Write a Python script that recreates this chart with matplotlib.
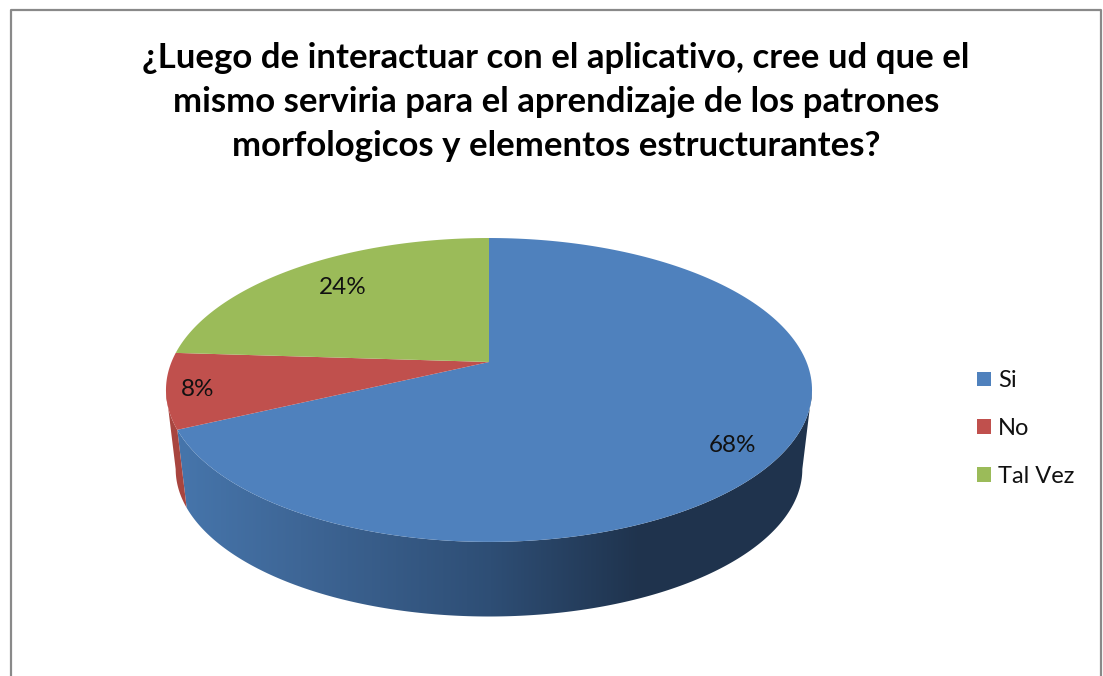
import numpy as np
import matplotlib
matplotlib.use("Agg")
from matplotlib import pyplot as plt
from matplotlib.patches import Polygon

title = "¿Luego de interactuar con el aplicativo, cree ud que el\nmismo serviria para el aprendizaje de los patrones\nmorfologicos y elementos estructurantes?"
labels = ["Si", "No", "Tal Vez"]
values = [68, 8, 24]

colors = ["#4f81bd", "#c0504d", "#9bbb59"]
label_xy = [(732, 445), (198, 389), (343, 287)]

# pie geometry in image pixels, perspective view of a disc
cx = 489
k = 0.184
A = 317.5
B = 146.8
top_y = 362
bottom_y = 442
bottom_scale = 0.97


def project(theta, r, y0, s):
    X = r * np.sin(theta)
    Y = r * np.cos(theta)
    w = 1 + k * Y
    return cx + s * A * X / w, y0 - s * B * Y / w


def arc(a, b, y0, s):
    t = np.linspace(a, b, 200)
    return np.column_stack(project(t, 1.0, y0, s))


plt.rcParams["font.family"] = ["Lato", "DejaVu Sans"]
fig = plt.figure(figsize=(11.03, 6.76), dpi=100)
ax = fig.add_axes([0, 0, 1, 1])
ax.set_xlim(0, 1103)
ax.set_ylim(676, 0)
ax.axis("off")

# chart border, no bottom side because the screenshot cuts it
ax.plot([11, 11, 1101, 1101], [676, 10, 10, 676], color="#898989", lw=1.6)

edges = np.cumsum([0] + values) / sum(values) * 2 * np.pi
side_a = np.arccos(-k)
side_b = 2 * np.pi - side_a

# front wall
wall_colors = ["#1f334d", "#a8453f", "#7a9444"]
for i in range(len(values)):
    a = max(edges[i], side_a)
    b = min(edges[i + 1], side_b)
    if a >= b:
        continue
    pts = np.vstack([arc(a, b, top_y, 1.0), arc(a, b, bottom_y, bottom_scale)[::-1]])
    if i == 0:
        # blue side goes dark from left to right
        xs = np.arange(166, 813)
        r = np.interp(xs, [180, 300, 490, 640, 812], [0x46, 0x3e, 0x2e, 0x1f, 0x1f])
        g = np.interp(xs, [180, 300, 490, 640, 812], [0x75, 0x66, 0x4e, 0x33, 0x33])
        b_ = np.interp(xs, [180, 300, 490, 640, 812], [0xab, 0x96, 0x75, 0x4d, 0x4d])
        grad = np.dstack([r, g, b_]).astype(np.uint8)
        im = ax.imshow(grad, extent=(166, 813, 640, 300), aspect="auto")
        clip = Polygon(pts, closed=True, transform=ax.transData, fill=False, edgecolor="none")
        ax.add_patch(clip)
        im.set_clip_path(clip)
    else:
        ax.fill(pts[:, 0], pts[:, 1], color=wall_colors[i], lw=0)

ax.set_xlim(0, 1103)
ax.set_ylim(676, 0)

# top face
handles = []
for i in range(len(values)):
    pts = np.vstack([[cx, top_y], arc(edges[i], edges[i + 1], top_y, 1.0)])
    handles.append(ax.fill(pts[:, 0], pts[:, 1], color=colors[i], lw=0, label=labels[i])[0])

for v, (x, y) in zip(values, label_xy):
    ax.text(x, y, f"{v}%", ha="center", va="center", fontsize=17.5, color="#111111")

ax.text(556, 102, title, ha="center", va="center", fontsize=25, fontweight="bold",
        color="black", linespacing=1.48)

ax.legend(handles=handles, loc="upper left", bbox_to_anchor=(956 / 1103, 1 - 349 / 676),
          frameon=False, fontsize=17, handlelength=0.59, handleheight=0.59,
          handletextpad=0.3, labelspacing=1.13, labelcolor="#111111")

fig.savefig("out.png", dpi=100)
